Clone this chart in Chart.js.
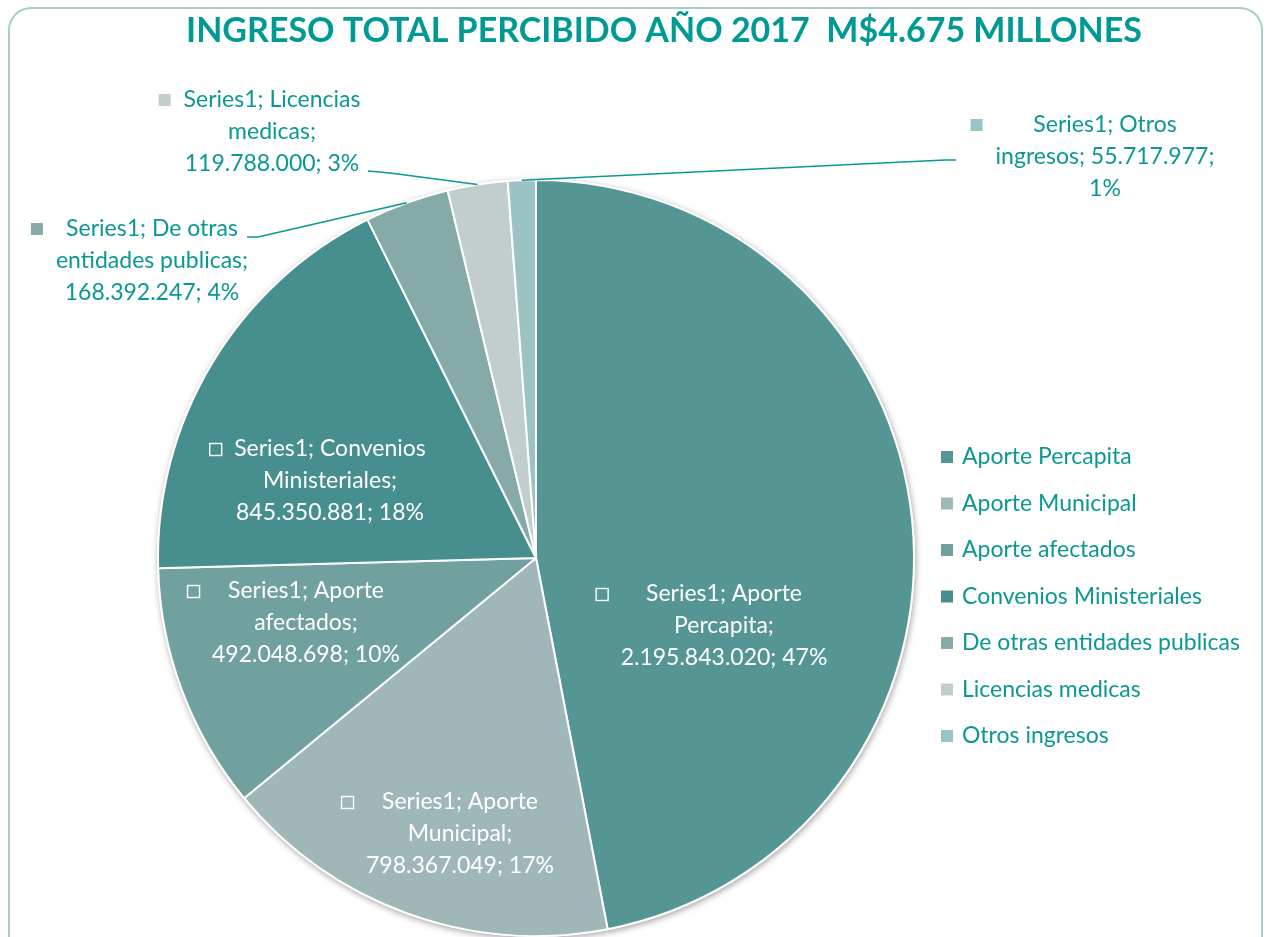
<!DOCTYPE html>
<html>
<head>
<meta charset="utf-8">
<script src="https://cdn.jsdelivr.net/npm/chart.js@4"></script>
<style>
  html, body { margin: 0; padding: 0; background: #ffffff; }
  #wrap { width: 1272px; height: 937px; position: relative; overflow: hidden; }
</style>
</head>
<body>
<div id="wrap"><canvas id="chart" width="1272" height="937"></canvas></div>
<script>
(function () {
  var TITLE = "INGRESO TOTAL PERCIBIDO AÑO 2017  M$4.675 MILLONES";
  var SERIES_NAME = "Series1";
  var CATEGORIES = [
    "Aporte Percapita",
    "Aporte Municipal",
    "Aporte afectados",
    "Convenios Ministeriales",
    "De otras entidades publicas",
    "Licencias medicas",
    "Otros ingresos"
  ];
  var VALUES = [2195843020, 798367049, 492048698, 845350881, 168392247, 119788000, 55717977];
  var COLORS = ["#559694", "#9fb8b7", "#71a19f", "#478f8e", "#86aaa8", "#c2cece", "#9cc3c3"];

  var TEAL = "#0b9893";
  var FONT = "Lato, 'Open Sans', sans-serif";

  // where each data label block sits (middle line centre), tokens per line,
  // and for outside labels the elbow of the leader line
  var LABEL_LAYOUT = [
    { x: 724, y: 626, lines: [2, 1, 2], inside: true },
    { x: 460, y: 834, lines: [2, 1, 2], inside: true },
    { x: 306, y: 623, lines: [2, 1, 2], inside: true },
    { x: 330, y: 481, lines: [2, 1, 2], inside: true },
    { x: 152, y: 261, lines: [3, 2, 2], inside: false, elbow: [258, 237], end: [247, 237] },
    { x: 272, y: 132, lines: [2, 1, 2], inside: false, elbow: [390, 173], end: [368, 171] },
    { x: 1105, y: 157, lines: [2, 2, 1], inside: false, elbow: [945, 160], end: [956, 160] }
  ];

  function formatThousands(v) {
    return String(v).replace(/\B(?=(\d{3})+(?!\d))/g, ".");
  }

  // whole percentages that add up to 100 (largest remainder)
  function percentages(values) {
    var total = values.reduce(function (a, b) { return a + b; }, 0);
    var raw = values.map(function (v) { return v / total * 100; });
    var out = raw.map(Math.floor);
    var left = 100 - out.reduce(function (a, b) { return a + b; }, 0);
    var order = raw.map(function (r, i) { return i; }).sort(function (a, b) {
      return (raw[b] - out[b]) - (raw[a] - out[a]);
    });
    for (var k = 0; k < left; k++) out[order[k]] += 1;
    return out;
  }

  var PCTS = percentages(VALUES);

  function labelLines(i) {
    var text = SERIES_NAME + "; " + CATEGORIES[i] + "; " + formatThousands(VALUES[i]) + "; " + PCTS[i] + "%";
    var tokens = text.split(" ");
    var lines = [];
    var pos = 0;
    LABEL_LAYOUT[i].lines.forEach(function (n) {
      lines.push(tokens.slice(pos, pos + n).join(" "));
      pos += n;
    });
    return lines;
  }

  var framePlugin = {
    id: "frame",
    beforeDraw: function (chart) {
      var ctx = chart.ctx;
      ctx.save();
      ctx.strokeStyle = "#a3d0cd";
      ctx.lineWidth = 2;
      ctx.beginPath();
      ctx.roundRect(9, 8, 1253, 960, 22);
      ctx.stroke();

      ctx.fillStyle = "#009a95";
      ctx.font = "bold 34px " + FONT;
      ctx.textAlign = "center";
      ctx.textBaseline = "middle";
      ctx.fillText(TITLE, 664, 31);
      ctx.restore();
    },
    beforeDatasetsDraw: function (chart) {
      var arc = chart.getDatasetMeta(0).data[0];
      if (!arc) return;
      var ctx = chart.ctx;
      ctx.save();
      ctx.shadowColor = "rgba(0,0,0,0.35)";
      ctx.shadowBlur = 6;
      ctx.shadowOffsetX = 1;
      ctx.shadowOffsetY = 2;
      ctx.fillStyle = "#ffffff";
      ctx.beginPath();
      ctx.arc(arc.x, arc.y, arc.outerRadius + 1, 0, Math.PI * 2);
      ctx.fill();
      ctx.restore();
    },
    afterDatasetsDraw: function (chart) {
      var ctx = chart.ctx;
      var meta = chart.getDatasetMeta(0);
      ctx.save();
      ctx.font = "23px " + FONT;
      ctx.textAlign = "center";
      ctx.textBaseline = "middle";

      meta.data.forEach(function (arc, i) {
        var lay = LABEL_LAYOUT[i];
        var lines = labelLines(i);
        var lineH = 32;
        var maxW = 0;
        lines.forEach(function (l) { maxW = Math.max(maxW, ctx.measureText(l).width); });
        var top = lay.y - lineH * (lines.length - 1) / 2;

        if (!lay.inside) {
          var mid = (arc.startAngle + arc.endAngle) / 2;
          var ex = arc.x + Math.cos(mid) * arc.outerRadius;
          var ey = arc.y + Math.sin(mid) * arc.outerRadius;
          ctx.strokeStyle = TEAL;
          ctx.lineWidth = 1.6;
          ctx.beginPath();
          ctx.moveTo(ex, ey);
          ctx.lineTo(lay.elbow[0], lay.elbow[1]);
          ctx.lineTo(lay.end[0], lay.end[1]);
          ctx.stroke();
        }

        ctx.fillStyle = lay.inside ? "#ffffff" : TEAL;
        lines.forEach(function (l, j) {
          ctx.fillText(l, lay.x, top + j * lineH);
        });

        // legend key in front of the first line
        var kx = lay.x - maxW / 2 - 25;
        var ky = top - 6;
        if (lay.inside) {
          ctx.strokeStyle = "#ffffff";
          ctx.lineWidth = 1.4;
          ctx.strokeRect(kx + 0.5, ky + 0.5, 12, 12);
        } else {
          ctx.fillStyle = COLORS[i];
          ctx.fillRect(kx, ky, 12, 12);
        }
      });

      // legend on the right
      var lx = 941;
      var ly = 457;
      CATEGORIES.forEach(function (name, i) {
        var y = ly + i * 46.5;
        ctx.fillStyle = COLORS[i];
        ctx.fillRect(lx, y - 6, 12, 12);
        ctx.fillStyle = TEAL;
        ctx.textAlign = "left";
        ctx.fillText(name, lx + 21, y);
      });
      ctx.restore();
    }
  };

  new Chart(document.getElementById("chart"), {
    type: "pie",
    data: {
      labels: CATEGORIES,
      datasets: [{
        data: VALUES,
        backgroundColor: COLORS,
        borderColor: "#ffffff",
        borderWidth: 2
      }]
    },
    options: {
      responsive: false,
      animation: false,
      devicePixelRatio: 1,
      layout: { padding: { top: 179, left: 156, right: 356, bottom: 0 } },
      plugins: {
        legend: { display: false },
        title: { display: false },
        tooltip: { enabled: false }
      }
    },
    plugins: [framePlugin]
  });
})();
</script>
</body>
</html>
